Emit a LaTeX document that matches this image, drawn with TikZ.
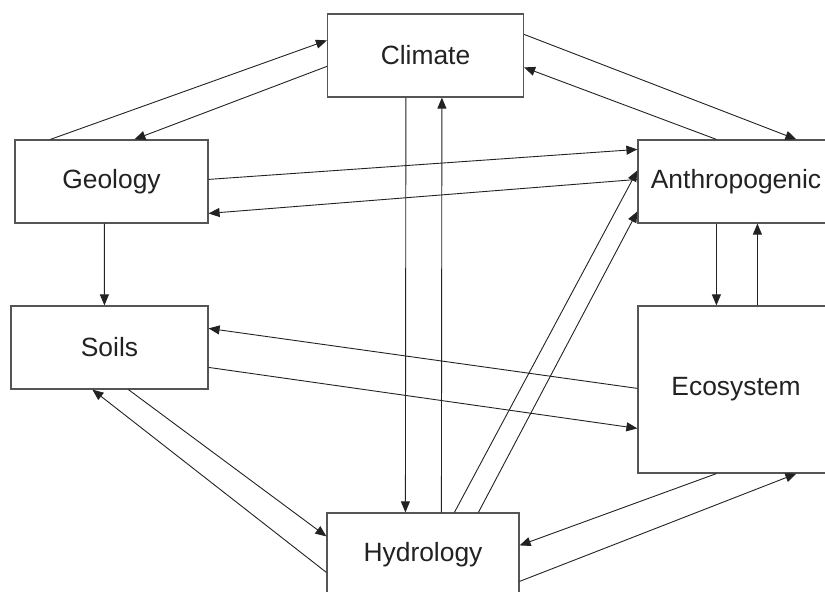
\documentclass[tikz,border=0pt]{standalone}
\usepackage{fontspec}
\setmainfont{Liberation Sans}
\usetikzlibrary{arrows.meta}
\definecolor{Ink}{HTML}{222222}
\definecolor{Frame}{HTML}{555555}

\begin{document}
\begin{tikzpicture}[x=1bp,y=-1bp,
  block/.style={draw=Frame,line width=1.2bp,fill=white,minimum width=196bp,minimum height=83bp,inner sep=0pt,text=Ink,font=\fontsize{26.5}{30}\selectfont},
  link/.style={draw=Ink,line width=0.9bp,-{Triangle[length=11bp,width=9bp]}}]
  \useasboundingbox (0,0) rectangle (825,592);
  \clip (0,0) rectangle (825,592);
  \node[block] (cli) at (425.5,55.5) {Climate};
  \node[block,minimum width=193bp] (geo) at (111.5,181.5) {Geology};
  \node[block] (ant) at (736,181.5) {Anthropogenic};
  \node[block,minimum width=197bp] (soi) at (109.5,347.5) {Soils};
  \node[block,minimum height=167bp] (eco) at (736,389.5) {Ecosystem};
  \node[block,minimum width=192bp] (hyd) at (423,554.5) {Hydrology};
  \draw[link] ([xshift=36bp]geo.north west) -- ([yshift=-27bp]cli.north west);
  \draw[link] ([yshift=-53bp]cli.north west) -- ([xshift=120bp]geo.north west);
  \draw[link] ([yshift=-21bp]cli.north east) -- ([xshift=159bp]ant.north west);
  \draw[link] ([xshift=79bp]ant.north west) -- ([yshift=-54bp]cli.north east);
  \draw[link] ([xshift=79bp]cli.south west) -- ([xshift=79bp]hyd.north west);
  \draw[link] ([xshift=115bp]hyd.north west) -- ([xshift=115bp]cli.south west);
  \draw[link] ([yshift=-40bp]geo.north east) -- ([yshift=-10bp]ant.north west);
  \draw[link] ([yshift=-40bp]ant.north west) -- ([yshift=-74bp]geo.north east);
  \draw[link] ([xshift=90bp]geo.south west) -- ([xshift=94bp]soi.north west);
  \draw[link] ([xshift=79bp]ant.south west) -- ([xshift=79bp]eco.north west);
  \draw[link] ([xshift=120bp]eco.north west) -- ([xshift=120bp]ant.south west);
  \draw[link] ([yshift=-83bp]eco.north west) -- ([yshift=-23bp]soi.north east);
  \draw[link] ([yshift=-62bp]soi.north east) -- ([yshift=-123bp]eco.north west);
  \draw[link] ([yshift=-60bp]hyd.north west) -- ([xshift=82bp]soi.south west);
  \draw[link] ([xshift=118bp]soi.south west) -- ([yshift=-24bp]hyd.north west);
  \draw[link] ([xshift=128bp]hyd.north west) -- ([yshift=-31bp]ant.north west);
  \draw[link] ([xshift=152bp]hyd.north west) -- ([yshift=-72bp]ant.north west);
  \draw[link] ([xshift=79bp]eco.south west) -- ([yshift=-33bp]hyd.north east);
  \draw[link] ([yshift=-69bp]hyd.north east) -- ([xshift=159bp]eco.south west);
\end{tikzpicture}
\end{document}
